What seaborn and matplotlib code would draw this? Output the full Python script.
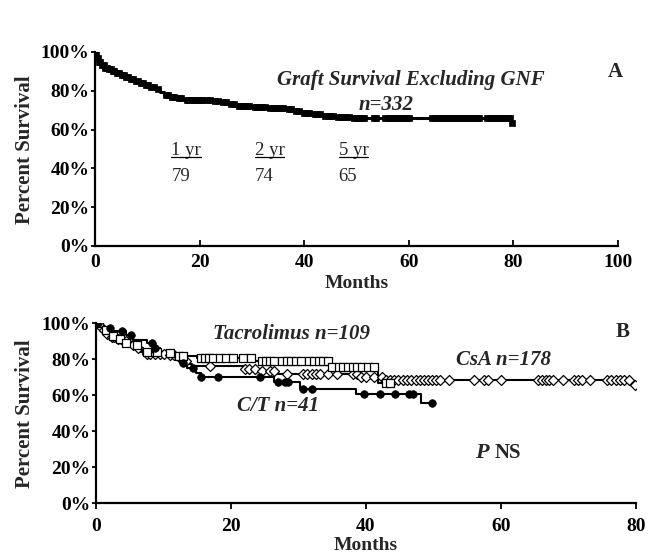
import numpy as np
import pandas as pd
import matplotlib
matplotlib.use("Agg")
import matplotlib.pyplot as plt
from matplotlib.lines import Line2D
import seaborn as sns

# ---------------- data ----------------
# Panel A: overall graft survival (step curve)
a_times = [0, 0.3, 0.7, 1.2, 1.8, 2.5, 3.2, 4, 5, 5.8, 6.5, 7.5, 8.5, 9.5, 10.5, 11.5,
           12.5, 13.2, 14.5, 15.5, 17, 21, 22.5, 24, 25.5, 27, 30, 33, 36.5, 38, 39.5,
           41.5, 43.5, 46, 49, 79.6, 79.8]
a_surv = [100, 97, 95, 93.5, 92, 91, 90, 89, 88, 87, 86, 85, 84, 83, 82, 81,
          79.5, 78, 77, 76.5, 75.5, 75, 74.5, 74, 73, 72, 71.5, 71, 70.5, 69.5, 68.5,
          68, 67, 66.5, 65.8, 63.5, 63.5]
a_censor = [0.2, 0.5, 0.8, 1.0, 1.4, 1.7, 2.0, 2.3, 2.7, 3.0, 3.4, 3.7, 4.2, 4.6, 5.2, 5.5,
            6.0, 6.3, 6.8, 7.2, 7.8, 8.2, 8.8, 9.2, 9.8, 10.2, 10.8, 11.2, 12.0, 13.5, 14.0,
            14.8, 15.2, 16.0, 16.5, 17.5, 18.0, 18.5, 19.0, 19.5, 20.0, 20.5, 21.5, 22.0,
            23.0, 23.5, 24.5, 25.0, 26.0, 26.5, 27.5, 28.0, 28.5, 29.0, 29.5, 30.5, 31.0,
            31.5, 32.0, 32.5, 33.5, 34.0, 34.5, 35.0, 35.5, 36.0, 37.0, 37.5, 38.5, 39.0,
            40.0, 40.5, 41.0, 42.0, 42.5, 43.0, 44.0, 44.5, 45.0, 45.5, 46.5, 47.0, 47.5,
            48.0, 48.5, 49.5, 50.0, 50.5, 51.0, 51.5, 53.3, 53.8, 55.5, 56.0, 56.5, 57.0,
            57.5, 58.0, 58.5, 59.0, 59.5, 60.0, 64.5, 65.0, 65.5, 66.0, 66.5, 67.0, 67.5,
            68.0, 68.5, 69.0, 69.5, 70.0, 70.5, 71.0, 71.5, 72.0, 72.5, 73.0, 73.5, 75.0,
            75.5, 76.0, 76.5, 77.0, 77.5, 78.0, 78.5, 79.0, 79.4, 79.8]
a_xticks = [0, 20, 40, 60, 80, 100]
yticks = [0, 20, 40, 60, 80, 100]
ytick_labels = ["0%", "20%", "40%", "60%", "80%", "100%"]
milestones = ["1 yr", "2 yr", "5 yr"]
milestone_vals = ["79", "74", "65"]

# Panel B: by immunosuppression
csa_times = [0, 0.5, 1, 1.5, 2, 3, 4, 5, 6, 6.5, 7, 10.5, 12, 12.8, 13.5, 14.2, 22,
             24.5, 27, 39, 43, 79.6, 79.8]
csa_surv = [100, 98, 96, 94, 92, 91, 90, 88, 86, 84, 83, 82.5, 81, 79, 77.5, 76.3, 74.6,
            73.5, 71.7, 70, 68.5, 65.5, 65.5]
csa_censor = [0.3, 0.7, 1.2, 1.7, 2.3, 2.7, 3.3, 3.7, 4.4, 5.5, 6.2, 7.5, 8.0, 8.8, 9.5,
              10.0, 11.0, 11.5, 12.3, 13.0, 13.3, 16.9, 22.1, 22.7, 23.6, 24.6, 25.8,
              26.4, 28.3, 30.7, 31.3, 32.0, 32.6, 33.2, 34.4, 35.7, 38.1, 38.7, 39.3, 40.0,
              41.2, 42.4, 43.0, 43.6, 44.2, 44.8, 45.5, 46.0, 46.7, 47.4, 48.0, 48.6, 49.2,
              49.8, 50.4, 51.0, 52.3, 56.0, 57.5, 58.1, 60.0, 65.5, 66.0, 66.6, 67.1, 67.7,
              69.2, 70.8, 71.4, 72.0, 73.2, 75.7, 76.3, 77.0, 77.6, 78.2, 79.0, 79.8]
tac_times = [0, 0.5, 1, 2, 3, 4, 5, 6.5, 7, 10, 12, 15, 23.5, 35, 41.8, 43.6]
tac_surv = [100, 98, 96, 93, 91, 89, 88, 86, 84, 83.5, 81.5, 80.5, 79, 75.5, 66.5, 66.5]
tac_censor = [0.4, 1.5, 2.5, 3.5, 4.5, 6.0, 7.5, 9.0, 11.0, 12.3, 12.9, 15.6, 16.2, 16.8,
              17.4, 18.4, 19.3, 20.3, 21.8, 23.0, 24.6, 25.2, 25.8, 26.4, 27.6, 28.3,
              28.9, 29.6, 30.4, 31.6, 32.3, 33.0, 33.6, 34.4, 35.0, 36.0, 36.6, 37.3,
              38.0, 38.6, 39.4, 40.3, 41.2, 43.0, 43.6]
ct_times = [0, 1, 2.5, 4.5, 5.5, 7.5, 8.5, 9.5, 11, 12.5, 13.5, 14.8, 15.5, 26.3, 30.2,
            38.5, 48.2, 49.8]
ct_surv = [100, 97.5, 95.5, 93.5, 90.5, 89, 86, 84, 81, 78, 75, 72.5, 70, 67.5, 63.5,
           60.5, 55.5, 55.5]
ct_marks = [0.3, 2.1, 3.9, 5.2, 8.3, 8.7, 12.9, 14.4, 15.6, 18.1, 24.3, 26.9, 28.0, 28.4,
            30.7, 32.0, 39.7, 42.1, 44.3, 46.4, 47.0, 49.8]
b_xticks = [0, 20, 40, 60, 80]


def step_value(times, surv, t):
    idx = np.searchsorted(np.asarray(times), t, side="right") - 1
    return np.asarray(surv)[np.clip(idx, 0, len(surv) - 1)]


# ---------------- style ----------------
sns.set_theme(style="ticks")
plt.rcParams["font.family"] = ["Liberation Serif", "DejaVu Serif"]

fig = plt.figure(figsize=(6.49, 5.53), dpi=100)
W, H = 649, 553
axA = fig.add_axes([95 / W, 1 - 246 / H, (618 - 95) / W, (246 - 52) / H])
axB = fig.add_axes([96 / W, 1 - 503 / H, (636 - 96) / W, (503 - 323) / H])

for ax in (axA, axB):
    for s in ("top", "right"):
        ax.spines[s].set_visible(False)
    for s in ("left", "bottom"):
        ax.spines[s].set_linewidth(1.6)
        ax.spines[s].set_color("black")
    ax.set_ylim(0, 100)
    ax.set_yticks(yticks)
    ax.set_yticklabels(ytick_labels, fontsize=14, fontweight="bold")
    ax.tick_params(axis="y", direction="out", length=3, width=1.3, pad=1, colors="black")
    ax.set_facecolor("white")

# ---- Panel A ----
sns.lineplot(x=a_times, y=a_surv, drawstyle="steps-post", color="black", lw=2.2,
             ax=axA, estimator=None)
ca = np.array(a_censor)
sns.scatterplot(x=ca, y=step_value(a_times, a_surv, ca), marker="s", s=16,
                color="black", edgecolor="black", linewidth=0.5, ax=axA, zorder=3)
axA.set_xlim(0, 100)
axA.set_xticks(a_xticks)
axA.set_xticklabels([str(v) for v in a_xticks], fontsize=14, fontweight="bold")
axA.tick_params(axis="x", direction="in", length=4, width=1.3, pad=6, colors="black")
axA.set_xlabel("Months", fontsize=14, fontweight="bold", labelpad=3)
axA.set_ylabel("")
axA.text(60.4, 85.6, "Graft Survival Excluding GNF", fontsize=15, fontweight="bold",
         style="italic", ha="center", va="center")
axA.text(55.7, 72.8, "n=332", fontsize=15, fontweight="bold", style="italic",
         ha="center", va="center")
axA.text(99.5, 89.7, "A", fontsize=15, fontweight="bold", ha="center", va="center")
under_texts = []
for x0, lab, val in zip([14.6, 30.5, 46.6], milestones, milestone_vals):
    t = axA.text(x0, 49, lab, fontsize=13.5, ha="left", va="center")
    under_texts.append(t)
    axA.text(x0, 36, val, fontsize=13.5, ha="left", va="center")

# ---- Panel B ----
sns.lineplot(x=ct_times, y=ct_surv, drawstyle="steps-post", color="black", lw=1.5,
             ax=axB, estimator=None)
sns.lineplot(x=csa_times, y=csa_surv, drawstyle="steps-post", color="black", lw=1.5,
             ax=axB, estimator=None)
sns.lineplot(x=tac_times, y=tac_surv, drawstyle="steps-post", color="black", lw=1.5,
             ax=axB, estimator=None)
cc = np.array(csa_censor)
sns.scatterplot(x=cc, y=step_value(csa_times, csa_surv, cc), marker="D", s=26,
                facecolor="white", edgecolor="black", linewidth=0.9, ax=axB, zorder=3)
tc = np.array(tac_censor)
sns.scatterplot(x=tc, y=step_value(tac_times, tac_surv, tc), marker="s", s=30,
                facecolor="white", edgecolor="black", linewidth=0.9, ax=axB, zorder=4)
cm = np.array(ct_marks)
sns.scatterplot(x=cm, y=step_value(ct_times, ct_surv, cm), marker="o", s=30,
                color="black", edgecolor="black", linewidth=0.5, ax=axB, zorder=5)
axB.set_xlim(0, 80)
axB.set_xticks(b_xticks)
axB.set_xticklabels([str(v) for v in b_xticks], fontsize=14, fontweight="bold")
axB.tick_params(axis="x", direction="out", length=4, width=1.3, pad=7, colors="black")
axB.set_xlabel("")
axB.set_ylabel("")
fig.text(366 / W, 1 - 545 / H, "Months", fontsize=14, fontweight="bold",
         ha="center", va="center")
axB.text(28.9, 94, "Tacrolimus n=109", fontsize=15, fontweight="bold", style="italic",
         ha="center", va="center")
axB.text(60.3, 79.4, "CsA n=178", fontsize=15, fontweight="bold", style="italic",
         ha="center", va="center")
axB.text(27, 54, "C/T n=41", fontsize=15, fontweight="bold", style="italic",
         ha="center", va="center")
axB.text(58.2, 28, "P", fontsize=16, fontweight="bold", style="italic",
         ha="right", va="center")
axB.text(59.0, 28, "NS", fontsize=15, fontweight="bold", ha="left", va="center")
axB.text(78, 95, "B", fontsize=15, fontweight="bold", ha="center", va="center")

fig.text(25 / W, 1 - 150 / H, "Percent Survival", rotation=90, fontsize=15,
         fontweight="bold", ha="center", va="center")
fig.text(25 / W, 1 - 414 / H, "Percent Survival", rotation=90, fontsize=15,
         fontweight="bold", ha="center", va="center")

# underline the milestone headers
fig.canvas.draw()
renderer = fig.canvas.get_renderer()
for t in under_texts:
    bb = t.get_window_extent(renderer)
    y = bb.y0 + 2
    fig.add_artist(Line2D([bb.x0 / W, bb.x1 / W], [y / H, y / H], color="black",
                          lw=0.9, transform=fig.transFigure))

fig.savefig("out.png", dpi=100, facecolor="white")
